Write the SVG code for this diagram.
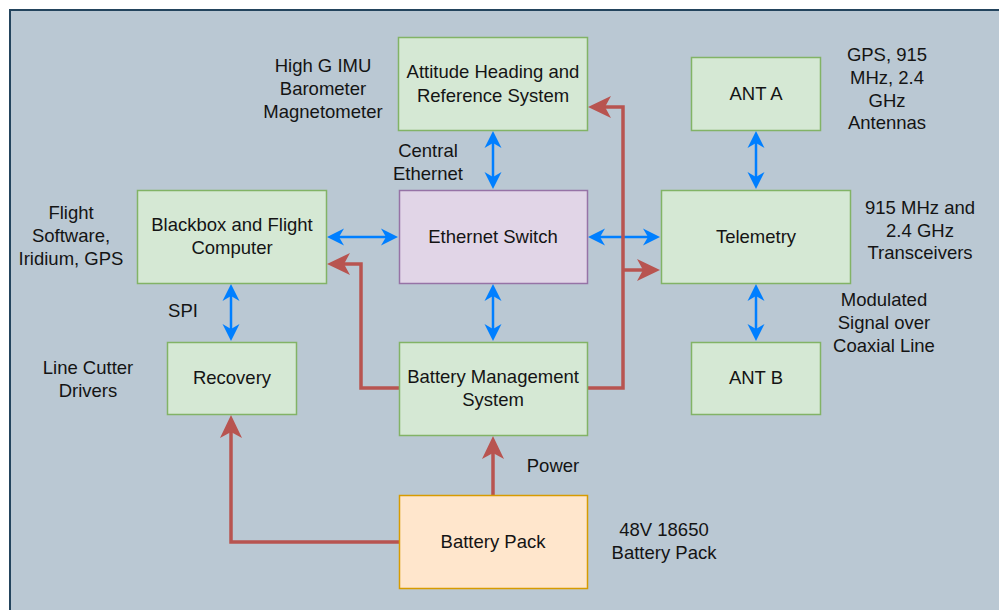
<svg xmlns="http://www.w3.org/2000/svg" width="999" height="610" viewBox="0 0 999 610">
<style>
text{font-family:"Liberation Sans",Arial,sans-serif;font-size:18.5px;fill:#141414;text-anchor:middle}
.g{fill:#d5e8d4;stroke:#82b366;stroke-width:1.5}
.p{fill:#e1d5e7;stroke:#9673a6;stroke-width:1.5}
.o{fill:#ffe6cc;stroke:#d79b00;stroke-width:1.5}
.b{fill:none;stroke:#007fff;stroke-width:2.5;marker-start:url(#mb);marker-end:url(#mb)}
.r{fill:none;stroke:#b85450;stroke-width:3.5;marker-end:url(#mr)}
</style>
<defs>
<marker id="mb" markerUnits="userSpaceOnUse" viewBox="-6 -10 20 20" refX="0" refY="0" markerWidth="20" markerHeight="20" orient="auto-start-reverse">
<path d="M12,0 L-5,-8.5 L0,0 L-5,8.5 Z" fill="#007fff"/>
</marker>
<marker id="mr" markerUnits="userSpaceOnUse" viewBox="-8 -12 28 24" refX="0" refY="0" markerWidth="28" markerHeight="24" orient="auto">
<path d="M17,0 L-6,-11 L0,0 L-6,11 Z" fill="#b85450"/>
</marker>
</defs>
<rect x="10" y="10" width="1000" height="610" fill="#bac8d3" stroke="#23445d" stroke-width="2"/>
<g id="connectors">
<line class="b" x1="493" y1="143" x2="493" y2="177"/>
<line class="b" x1="339" y1="237" x2="386" y2="237"/>
<line class="b" x1="600" y1="237" x2="648" y2="237"/>
<line class="b" x1="493" y1="296" x2="493" y2="329"/>
<line class="b" x1="756" y1="143" x2="756" y2="177"/>
<line class="b" x1="756" y1="296" x2="756" y2="329"/>
<line class="b" x1="231" y1="296" x2="231" y2="329"/>
<path class="r" d="M587,388 H623 V107 H605"/>
<path class="r" d="M623,270 H643"/>
<path class="r" d="M399,388 H361 V264 H344"/>
<path class="r" d="M493,495 V453"/>
<path class="r" d="M399,542 H231 V432"/>
</g>
<g id="ahrs"><rect class="g" x="398.5" y="37.5" width="189" height="93"/><text x="493" y="78">Attitude Heading and</text><text x="493" y="102">Reference System</text></g>
<g id="blackbox"><rect class="g" x="137.5" y="190.5" width="189" height="93"/><text x="232" y="231">Blackbox and Flight</text><text x="232" y="254">Computer</text></g>
<g id="ethernet"><rect class="p" x="399.5" y="190.5" width="188" height="93"/><text x="493" y="243">Ethernet Switch</text></g>
<g id="telemetry"><rect class="g" x="661.5" y="190.5" width="189" height="93"/><text x="756" y="243">Telemetry</text></g>
<g id="anta"><rect class="g" x="691.5" y="57.5" width="129" height="73"/><text x="756" y="100">ANT A</text></g>
<g id="antb"><rect class="g" x="691.5" y="342.5" width="129" height="72"/><text x="756" y="384">ANT B</text></g>
<g id="recovery"><rect class="g" x="167.5" y="342.5" width="129" height="72"/><text x="232" y="384">Recovery</text></g>
<g id="bms"><rect class="g" x="399.5" y="342.5" width="188" height="93"/><text x="493" y="383">Battery Management</text><text x="493" y="406">System</text></g>
<g id="battery"><rect class="o" x="399.5" y="495.5" width="188" height="93"/><text x="493" y="548">Battery Pack</text></g>
<g id="labels">
<text x="323" y="72">High G IMU</text><text x="323" y="95">Barometer</text><text x="323" y="118">Magnetometer</text>
<text x="428" y="157">Central</text><text x="428" y="180">Ethernet</text>
<text x="71" y="219">Flight</text><text x="71" y="242">Software,</text><text x="71" y="265">Iridium, GPS</text>
<text x="183" y="317">SPI</text>
<text x="88" y="374">Line Cutter</text><text x="88" y="397">Drivers</text>
<text x="553" y="472">Power</text>
<text x="664" y="536">48V 18650</text><text x="664" y="559">Battery Pack</text>
<text x="887" y="61">GPS, 915</text><text x="887" y="84">MHz, 2.4</text><text x="887" y="107">GHz</text><text x="887" y="129">Antennas</text>
<text x="920" y="214">915 MHz and</text><text x="920" y="237">2.4 GHz</text><text x="920" y="259">Transceivers</text>
<text x="884" y="306">Modulated</text><text x="884" y="329">Signal over</text><text x="884" y="352">Coaxial Line</text>
</g>
</svg>
